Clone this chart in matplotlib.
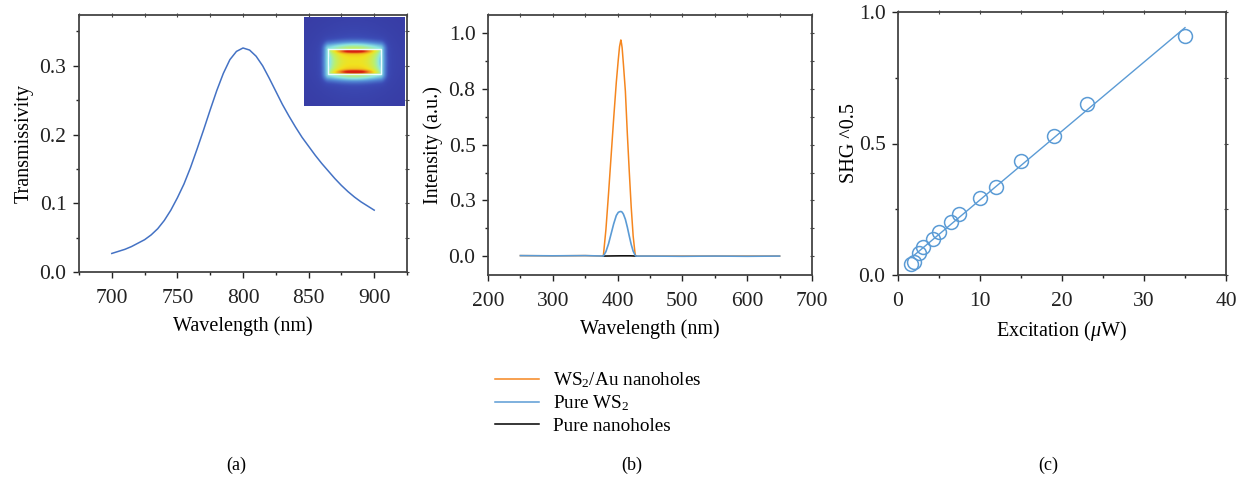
import numpy as np
import matplotlib
matplotlib.use('Agg')
import matplotlib.pyplot as plt
from matplotlib.lines import Line2D
from matplotlib.ticker import MultipleLocator
from matplotlib.colors import LinearSegmentedColormap

plt.rcParams['font.family'] = ['Liberation Serif', 'DejaVu Serif']
plt.rcParams['mathtext.fontset'] = 'custom'
plt.rcParams['mathtext.rm'] = 'Liberation Serif'
plt.rcParams['mathtext.it'] = 'Liberation Serif:italic'

# (a) transmission spectrum
wl_a = [700, 705, 710, 715, 720, 725, 730, 735, 740, 745, 750, 755, 760, 765,
        770, 775, 780, 785, 790, 795, 800, 805, 810, 815, 820, 825, 830, 835,
        840, 845, 850, 855, 860, 865, 870, 875, 880, 885, 890, 895, 900]
trans = [0.027, 0.030, 0.033, 0.037, 0.042, 0.047, 0.054, 0.063, 0.075, 0.090,
         0.108, 0.128, 0.152, 0.179, 0.207, 0.236, 0.264, 0.289, 0.309, 0.321,
         0.326, 0.323, 0.314, 0.300, 0.282, 0.263, 0.244, 0.227, 0.211, 0.196,
         0.183, 0.170, 0.158, 0.147, 0.136, 0.126, 0.117, 0.109, 0.102, 0.096,
         0.090]

# (b) SHG spectra
wl_b = [250, 300, 350, 378, 382, 386, 390, 394, 398, 401, 403, 405, 406, 407,
        409, 412, 415, 418, 421, 424, 427, 428, 450, 500, 550, 600, 650]
ws2_au = [0.002, 0.001, 0.002, 0.0, 0.12, 0.28, 0.45, 0.62, 0.78, 0.88, 0.94,
          0.97, 0.955, 0.935, 0.86, 0.74, 0.55, 0.38, 0.22, 0.09, 0.01, 0.0,
          0.0, 0.0, 0.0, 0.0, 0.0]
pure_ws2 = [0.002, 0.001, 0.002, 0.0, 0.02, 0.055, 0.10, 0.145, 0.182, 0.196,
            0.199, 0.20, 0.199, 0.197, 0.188, 0.165, 0.13, 0.09, 0.052, 0.022,
            0.004, 0.0, 0.0, -0.001, 0.0, -0.001, 0.0]
wl_holes = [378, 390, 405, 420, 428]
pure_holes = [0.0, 0.0005, 0.001, 0.001, 0.0]

# (c) SHG^0.5 vs excitation power
power = [1.55, 2.0, 2.55, 3.0, 4.3, 5.0, 6.45, 7.45, 10.0, 12.0, 15.0, 19.0, 23.0, 35.0]
shg = [0.043, 0.049, 0.083, 0.106, 0.137, 0.162, 0.201, 0.231, 0.293, 0.336,
       0.434, 0.528, 0.651, 0.909]

orange = '#f5861f'
blue_b = '#5b9bd5'
blue_a = '#4472c4'
spine_c = '#444444'
fs = 15.5
lfs = 14.5


def style(ax, xmaj, xmin, ymaj, ymin):
    ax.xaxis.set_major_locator(MultipleLocator(xmaj))
    ax.xaxis.set_minor_locator(MultipleLocator(xmin))
    ax.yaxis.set_major_locator(MultipleLocator(ymaj))
    ax.yaxis.set_minor_locator(MultipleLocator(ymin))
    ax.tick_params(which='both', direction='out', top=False, right=False,
                   labelsize=fs, colors='#222222', width=1)
    ax.tick_params(which='major', length=4)
    ax.tick_params(which='minor', length=2.5)
    ax.tick_params(axis='x', which='major', pad=8)
    ax.tick_params(axis='y', which='major', pad=5)
    for s in ax.spines.values():
        s.set_color(spine_c)
        s.set_linewidth(1.3)
    # small marks on top and right
    sec_x = ax.secondary_xaxis('top')
    sec_x.xaxis.set_major_locator(MultipleLocator(xmin))
    sec_x.tick_params(direction='inout', length=3, labeltop=False, colors=spine_c)
    sec_x.spines['top'].set_visible(False)
    sec_y = ax.secondary_yaxis('right')
    sec_y.yaxis.set_major_locator(MultipleLocator(ymin))
    sec_y.tick_params(direction='inout', length=3, labelright=False, colors=spine_c)
    sec_y.spines['right'].set_visible(False)


fig = plt.figure(figsize=(12.44, 4.8), dpi=100)

# panel a
ax1 = fig.add_axes([79 / 1244, 1 - 272 / 480, 328 / 1244, 257 / 480])
ax1.plot(wl_a, trans, color=blue_a, lw=1.1)
ax1.set_xlim(675, 925)
ax1.set_ylim(0, 0.374)
style(ax1, 50, 25, 0.1, 0.05)
ax1.set_xlabel('Wavelength (nm)', fontsize=lfs, labelpad=6)
ax1.set_ylabel('Transmissivity', fontsize=lfs, labelpad=4)

# inset field map (illustrative picture)
field_cmap = LinearSegmentedColormap.from_list(
    'field', ['#35339a', '#3c4cb6', '#5590d8', '#8de8e2', '#bdf06a', '#f2e21e', '#f09020', '#d82010'])
yy, xx = np.mgrid[-1:1:121j, -1:1:141j]
box_w, box_h = 0.52, 0.28
dx = np.clip(np.abs(xx) - box_w, 0, None)
dy = np.clip(np.abs(yy) - box_h, 0, None)
dist = np.sqrt((1.4 * dx) ** 2 + dy ** 2)
outside = (0.06 + 0.12 * np.exp(-(xx ** 2 + yy ** 2) / 0.6)
           + 0.45 * np.exp(-(dist / 0.16) ** 2) * (0.55 + 0.45 * np.exp(-(xx / 0.5) ** 2)))
inside_mask = (np.abs(xx) <= box_w) & (np.abs(yy) <= box_h)
hour = 0.74 - 0.36 * (np.abs(xx) / box_w) ** 3 + 0.16 * (np.abs(yy) / box_h) ** 2
edge = 0.3 * np.exp(-((box_h - 0.05 - np.abs(yy)) / 0.04) ** 2) * np.exp(-(xx / 0.3) ** 2)
field = np.where(inside_mask, hour + edge, outside)
axi = fig.add_axes([304 / 1244, 1 - 106 / 480, 101 / 1244, 89 / 480])
axi.imshow(field, cmap=field_cmap, vmin=0, vmax=1.05, aspect='auto', interpolation='bilinear')
rect_x = np.interp([-box_w, box_w], [-1, 1], [0, 140])
rect_y = np.interp([-box_h, box_h], [-1, 1], [0, 120])
axi.plot([rect_x[0], rect_x[1], rect_x[1], rect_x[0], rect_x[0]],
         [rect_y[0], rect_y[0], rect_y[1], rect_y[1], rect_y[0]], color='#eafcff', lw=1)
axi.set_xlim(-0.5, 140.5)
axi.set_ylim(120.5, -0.5)
axi.set_axis_off()

# panel b
ax2 = fig.add_axes([488 / 1244, 1 - 275 / 480, 324 / 1244, 260 / 480])
ax2.plot(wl_b, ws2_au, color=orange, lw=1.1)
ax2.plot(wl_holes, pure_holes, color='black', lw=1.1)
ax2.plot(wl_b, pure_ws2, color=blue_b, lw=1.2)
ax2.set_xlim(200, 700)
ax2.set_ylim(-0.085, 1.082)
style(ax2, 100, 50, 0.25, 0.125)
ax2.set_yticks([0, 0.25, 0.5, 0.75, 1.0])
ax2.set_yticklabels(['0.0', '0.3', '0.5', '0.8', '1.0'])
ax2.set_xlabel('Wavelength (nm)', fontsize=lfs, labelpad=6)
ax2.set_ylabel('Intensity (a.u.)', fontsize=lfs, labelpad=4)

handles = [Line2D([0], [0], color=orange, lw=1.1),
           Line2D([0], [0], color=blue_b, lw=1.1),
           Line2D([0], [0], color='black', lw=1.1)]
labels = ['WS$_2$/Au nanoholes', 'Pure WS$_2$', 'Pure nanoholes']
fig.legend(handles, labels, loc='upper left', bbox_to_anchor=(478 / 1244, 1 - 353 / 480),
           frameon=False, fontsize=13.8, handlelength=2.3, handletextpad=0.7,
           labelspacing=0.2)

# panel c
ax3 = fig.add_axes([898 / 1244, 1 - 275 / 480, 328 / 1244, 263 / 480])
fit = np.polyfit(power, shg, 1)
xfit = np.array([min(power) + 0.3, max(power)])
ax3.plot(xfit, np.polyval(fit, xfit), color=blue_b, lw=1)
ax3.plot(power, shg, 'o', ms=10, mfc='none', mec=blue_b, mew=1.1)
ax3.set_xlim(0, 40)
ax3.set_ylim(0, 1.0)
style(ax3, 10, 5, 0.5, 0.25)
ax3.set_xlabel(r'Excitation ($\mathit{\mu}$W)', fontsize=lfs, labelpad=6)
ax3.set_ylabel('SHG ^0.5', fontsize=lfs, labelpad=0)

fig.text(236 / 1244, 1 - 465 / 480, '(a)', ha='center', va='center', fontsize=13)
fig.text(632 / 1244, 1 - 465 / 480, '(b)', ha='center', va='center', fontsize=13)
fig.text(1048 / 1244, 1 - 465 / 480, '(c)', ha='center', va='center', fontsize=13)

fig.savefig('out.png', dpi=100)
